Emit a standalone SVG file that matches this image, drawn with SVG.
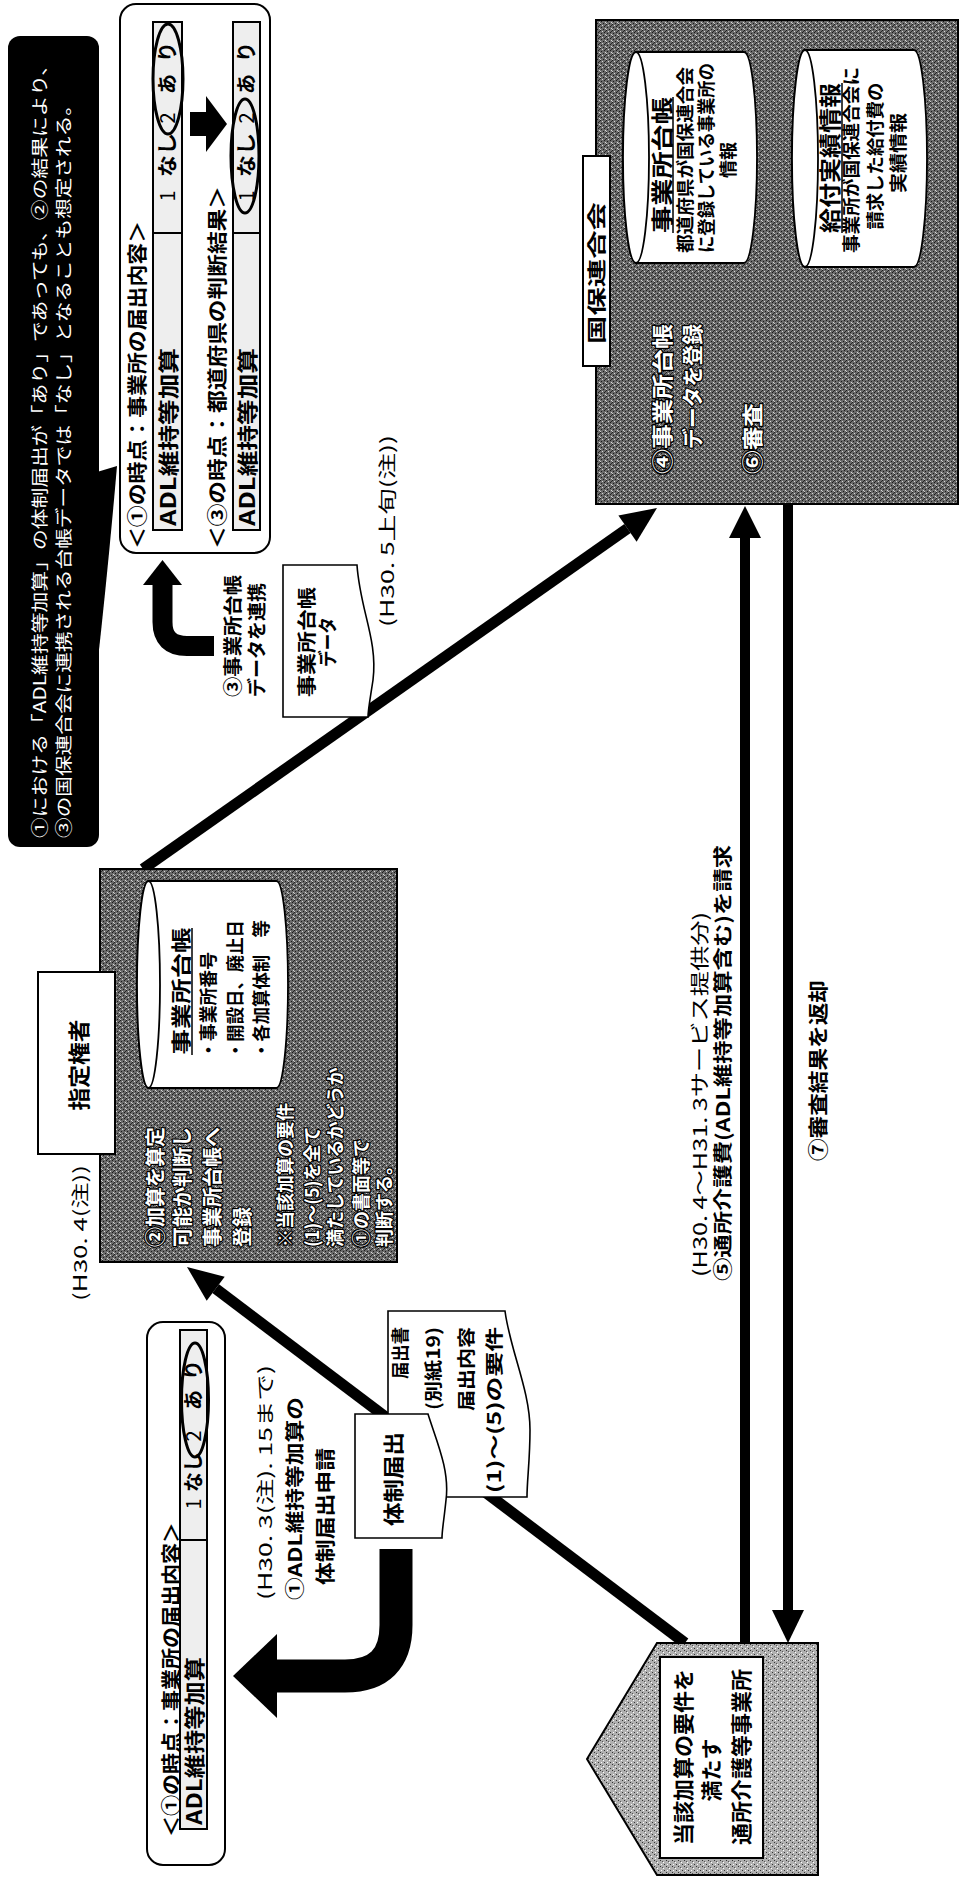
<svg xmlns="http://www.w3.org/2000/svg" width="962" height="1881" viewBox="0 0 962 1881">
<style>
text { font-family: "Noto Sans CJK JP", "Noto Sans", sans-serif; }
.b { font-weight: bold; fill: #000; }
.r { font-weight: normal; fill: #000; }
.cw { font-weight: normal; fill: #fff; }
.wo { font-weight: bold; fill: #fff; stroke: #000; stroke-width: 2.5px; paint-order: stroke; stroke-linejoin: round; }
.box { stroke: #000; stroke-width: 2; }
.doc { fill: #fff; stroke: #000; stroke-width: 1.6; }
.cell { fill: #eeeeee; stroke: #000; stroke-width: 2; }
.ell { fill: none; stroke: #000; stroke-width: 3; }
.cyl { fill: #fff; stroke: #000; stroke-width: 1.8; }
.ln { stroke: #000; fill: none; }
</style>
<defs>
<pattern id="dk" width="6" height="6" patternUnits="userSpaceOnUse">
<rect width="6" height="6" fill="#6a6a6a"/>
<rect x="0" y="0" width="1" height="1" fill="#1a1a1a"/>
<rect x="2" y="1" width="1" height="1" fill="#d8d8d8"/>
<rect x="4" y="2" width="1" height="1" fill="#1a1a1a"/>
<rect x="1" y="3" width="1" height="1" fill="#1a1a1a"/>
<rect x="5" y="4" width="1" height="1" fill="#d8d8d8"/>
<rect x="3" y="5" width="1" height="1" fill="#1a1a1a"/>
<rect x="0" y="5" width="1" height="1" fill="#c8c8c8"/>
<rect x="5" y="1" width="1" height="1" fill="#2a2a2a"/>
</pattern>
<pattern id="lt" width="6" height="6" patternUnits="userSpaceOnUse">
<rect width="6" height="6" fill="#b0b0b0"/>
<rect x="0" y="0" width="1" height="1" fill="#333"/>
<rect x="3" y="2" width="1" height="1" fill="#fff"/>
<rect x="4" y="4" width="1" height="1" fill="#333"/>
<rect x="1" y="4" width="1" height="1" fill="#fff"/>
<rect x="2" y="1" width="1" height="1" fill="#555"/>
</pattern>
</defs>
<rect width="962" height="1881" fill="#fff"/>

<g id="connectors">
<line class="ln" x1="685" y1="1643" x2="215.7" y2="1288.7" stroke-width="11"/>
<polygon points="187,1267 206.7,1300.7 224.7,1276.7" fill="#000"/>
<line class="ln" x1="143" y1="869" x2="627.5" y2="528.6" stroke-width="11"/>
<polygon points="657,508 636.6,541.7 618.4,515.5" fill="#000"/>
<line class="ln" x1="745" y1="1643" x2="745" y2="536" stroke-width="10"/>
<polygon points="745,506 729,538 761,538" fill="#000"/>
<line class="ln" x1="788" y1="504" x2="788" y2="1612" stroke-width="10"/>
<polygon points="788,1643 772,1610 804,1610" fill="#000"/>
<path class="ln" d="M162.5,584 V622 Q162.5,646 187,646 H214" stroke-width="20"/>
<polygon points="143,585 182,585 162.5,560" fill="#000"/>
<path class="ln" d="M396,1549 V1625 Q396,1676 345,1676 H276" stroke-width="33"/>
<polygon points="233,1676 277,1634 277,1718" fill="#000"/>
</g>

<g id="callout">
<rect x="8" y="36" width="91" height="811" rx="12" fill="#000"/>
<path d="M97,472 L117,466 Q108,570 97,668 Z" fill="#000"/>
<text class="cw" font-size="17" text-anchor="middle" transform="translate(46,446.5) rotate(-90)" textLength="783" lengthAdjust="spacingAndGlyphs">①における「ADL維持等加算」の体制届出が「あり」であっても、②の結果により、</text>
<text class="cw" font-size="17" text-anchor="middle" transform="translate(70,466.5) rotate(-90)" textLength="743" lengthAdjust="spacingAndGlyphs">③の国保連合会に連携される台帳データでは「なし」となることも想定される。</text>
</g>

<g id="table-top">
<rect x="120" y="4" width="150" height="549" rx="16" fill="#fff" class="box" stroke-width="2.5"/>
<text class="b" font-size="20" text-anchor="middle" transform="translate(144.6,385) rotate(-90)" textLength="328" lengthAdjust="spacingAndGlyphs">＜①の時点：事業所の届出内容＞</text>
<rect class="cell" x="153" y="22" width="29" height="508"/>
<line x1="153" y1="233" x2="182" y2="233" stroke="#000" stroke-width="2"/>
<text class="b" font-size="21" text-anchor="middle" transform="translate(175.5,437) rotate(-90)" textLength="178" lengthAdjust="spacingAndGlyphs">ADL維持等加算</text>
<text class="r" font-size="20" text-anchor="middle" transform="translate(175,196) rotate(-90)">1</text>
<text class="b" font-size="20" text-anchor="middle" transform="translate(175,155) rotate(-90)" textLength="44" lengthAdjust="spacingAndGlyphs">なし</text>
<text class="r" font-size="20" text-anchor="middle" transform="translate(175,118) rotate(-90)">2</text>
<text class="b" font-size="20" text-anchor="middle" transform="translate(175,68) rotate(-90)" textLength="52" lengthAdjust="spacing">あり</text>
<ellipse class="ell" cx="168" cy="79" rx="15" ry="55"/>
<polygon points="190,112 206,112 206,96 227,124 206,152 206,136 190,136" fill="#000"/>
<text class="b" font-size="20" text-anchor="middle" transform="translate(224.6,367.5) rotate(-90)" textLength="363" lengthAdjust="spacingAndGlyphs">＜③の時点：都道府県の判断結果＞</text>
<rect class="cell" x="233" y="22" width="27" height="508"/>
<line x1="233" y1="233" x2="260" y2="233" stroke="#000" stroke-width="2"/>
<text class="b" font-size="21" text-anchor="middle" transform="translate(254.5,437) rotate(-90)" textLength="178" lengthAdjust="spacingAndGlyphs">ADL維持等加算</text>
<text class="r" font-size="20" text-anchor="middle" transform="translate(254,196) rotate(-90)">1</text>
<text class="b" font-size="20" text-anchor="middle" transform="translate(254,155) rotate(-90)" textLength="44" lengthAdjust="spacingAndGlyphs">なし</text>
<text class="r" font-size="20" text-anchor="middle" transform="translate(254,118) rotate(-90)">2</text>
<text class="b" font-size="20" text-anchor="middle" transform="translate(254,68) rotate(-90)" textLength="52" lengthAdjust="spacing">あり</text>
<ellipse class="ell" cx="245" cy="156" rx="14" ry="57"/>
</g>

<g id="label-h30-5">
<text class="r" font-size="18" text-anchor="middle" transform="translate(394,531) rotate(-90)" textLength="192" lengthAdjust="spacingAndGlyphs">(H30. 5上旬(注))</text>
<text class="b" font-size="19" text-anchor="middle" transform="translate(240,636) rotate(-90)" textLength="122" lengthAdjust="spacingAndGlyphs">③事業所台帳</text>
<text class="b" font-size="19" text-anchor="middle" transform="translate(264,640) rotate(-90)" textLength="114" lengthAdjust="spacingAndGlyphs">データを連携</text>
</g>

<g id="doc-daicho">
<path class="doc" d="M283,565 H357 C360,610 378,640 373,680 C370,700 368,710 368,717 H283 Z"/>
<text class="b" font-size="19" text-anchor="middle" transform="translate(314,642) rotate(-90)" textLength="110" lengthAdjust="spacingAndGlyphs">事業所台帳</text>
<text class="b" font-size="19" text-anchor="middle" transform="translate(335,642) rotate(-90)" textLength="50" lengthAdjust="spacingAndGlyphs">データ</text>
</g>

<g id="shitei">
<rect x="100" y="869" width="297" height="393" fill="url(#dk)" class="box"/>
<path class="cyl" d="M148.5,881 H276.5 A11.5,103.5 0 0 1 276.5,1088 H148.5 A11.5,103.5 0 0 1 148.5,881 Z"/>
<ellipse class="cyl" cx="148.5" cy="984.5" rx="11.5" ry="103.5"/>
<text class="b" font-size="20" text-anchor="middle" transform="translate(188.6,991) rotate(-90)" textLength="127" lengthAdjust="spacingAndGlyphs">事業所台帳</text>
<line x1="192" y1="928" x2="192" y2="1055" stroke="#000" stroke-width="1.5"/>
<text class="b" font-size="18" transform="translate(215,1059) rotate(-90)" textLength="107" lengthAdjust="spacingAndGlyphs">・事業所番号</text>
<text class="b" font-size="18" transform="translate(242,1059) rotate(-90)" textLength="139" lengthAdjust="spacingAndGlyphs">・開設日、廃止日</text>
<text class="b" font-size="18" transform="translate(268,1059) rotate(-90)" textLength="139" lengthAdjust="spacingAndGlyphs">・各加算体制　等</text>
<text class="wo" font-size="20" transform="translate(162.6,1247) rotate(-90)">②加算を算定</text>
<text class="wo" font-size="20" transform="translate(189.6,1247) rotate(-90)">可能か判断し</text>
<text class="wo" font-size="20" transform="translate(219.6,1247) rotate(-90)">事業所台帳へ</text>
<text class="wo" font-size="20" transform="translate(249.6,1247) rotate(-90)">登録</text>
<text class="wo" font-size="18" transform="translate(291.8,1247) rotate(-90)">※当該加算の要件</text>
<text class="wo" font-size="18" transform="translate(318.8,1247) rotate(-90)">(1)～(5)を全て</text>
<text class="wo" font-size="18" transform="translate(341.8,1247) rotate(-90)">満たしているかどうか</text>
<text class="wo" font-size="18" transform="translate(367.8,1247) rotate(-90)">①の書面等で</text>
<text class="wo" font-size="18" transform="translate(390.8,1247) rotate(-90)">判断する。</text>
<rect x="38" y="972" width="77" height="182" fill="#fff" class="box"/>
<text class="b" font-size="22" text-anchor="middle" transform="translate(87,1065) rotate(-90)" textLength="91" lengthAdjust="spacingAndGlyphs">指定権者</text>
<text class="r" font-size="18" text-anchor="middle" transform="translate(87,1233) rotate(-90)" textLength="136" lengthAdjust="spacingAndGlyphs">(H30. 4(注))</text>
</g>

<g id="kokuho">
<rect x="596" y="20" width="362" height="484" fill="url(#dk)" class="box"/>
<path class="cyl" d="M636,52 H744 A13,105.5 0 0 1 744,263 H636 A13,105.5 0 0 1 636,52 Z"/>
<ellipse class="cyl" cx="636" cy="157.5" rx="13" ry="105.5"/>
<text class="b" font-size="22" text-anchor="middle" transform="translate(670,165) rotate(-90)" textLength="136" lengthAdjust="spacingAndGlyphs">事業所台帳</text>
<line x1="673" y1="97" x2="673" y2="233" stroke="#000" stroke-width="1.5"/>
<text class="b" font-size="18" text-anchor="middle" transform="translate(692,160) rotate(-90)" textLength="186" lengthAdjust="spacingAndGlyphs">都道府県が国保連合会</text>
<text class="b" font-size="18" text-anchor="middle" transform="translate(713,158) rotate(-90)" textLength="190" lengthAdjust="spacingAndGlyphs">に登録している事業所の</text>
<text class="b" font-size="18" text-anchor="middle" transform="translate(735,160) rotate(-90)">情報</text>
<path class="cyl" d="M805,50 H914 A13,108.5 0 0 1 914,267 H805 A13,108.5 0 0 1 805,50 Z"/>
<ellipse class="cyl" cx="805" cy="158.5" rx="13" ry="108.5"/>
<text class="b" font-size="22" text-anchor="middle" transform="translate(838,158) rotate(-90)" textLength="150" lengthAdjust="spacingAndGlyphs">給付実績情報</text>
<line x1="842" y1="83" x2="842" y2="233" stroke="#000" stroke-width="1.5"/>
<text class="b" font-size="18" text-anchor="middle" transform="translate(858,160) rotate(-90)" textLength="186" lengthAdjust="spacingAndGlyphs">事業所が国保連合会に</text>
<text class="b" font-size="18" text-anchor="middle" transform="translate(882,156) rotate(-90)" textLength="147" lengthAdjust="spacingAndGlyphs">請求した給付費の</text>
<text class="b" font-size="18" text-anchor="middle" transform="translate(905,153) rotate(-90)" textLength="80" lengthAdjust="spacingAndGlyphs">実績情報</text>
<text class="wo" font-size="21" transform="translate(670,474) rotate(-90)" textLength="150" lengthAdjust="spacingAndGlyphs">④事業所台帳</text>
<text class="wo" font-size="21" transform="translate(700,449) rotate(-90)" textLength="125" lengthAdjust="spacingAndGlyphs">データを登録</text>
<text class="wo" font-size="21" transform="translate(760,474) rotate(-90)" textLength="71" lengthAdjust="spacingAndGlyphs">⑥審査</text>
<rect x="583" y="156" width="27" height="210" fill="#fff" class="box"/>
<text class="b" font-size="19" text-anchor="middle" transform="translate(604,273) rotate(-90)" textLength="142" lengthAdjust="spacingAndGlyphs">国保連合会</text>
</g>

<g id="claim-labels">
<text class="r" font-size="19" text-anchor="middle" transform="translate(707,1094.5) rotate(-90)" textLength="365" lengthAdjust="spacingAndGlyphs">(H30. 4～H31. 3サービス提供分)</text>
<text class="b" font-size="19" text-anchor="middle" transform="translate(730,1063) rotate(-90)" textLength="436" lengthAdjust="spacingAndGlyphs">⑤通所介護費(ADL維持等加算含む)を請求</text>
<text class="b" font-size="20" text-anchor="middle" transform="translate(825.6,1070.5) rotate(-90)" textLength="181" lengthAdjust="spacingAndGlyphs">⑦審査結果を返却</text>
</g>

<g id="doc-todokede">
<path class="doc" d="M388,1311 H505 C510,1350 530,1390 530,1430 C530,1460 527,1480 527,1497 H388 Z"/>
<text class="b" font-size="18" text-anchor="end" transform="translate(407,1327) rotate(-90)" textLength="52" lengthAdjust="spacingAndGlyphs">届出書</text>
<text class="b" font-size="18" text-anchor="end" transform="translate(440,1327) rotate(-90)" textLength="83" lengthAdjust="spacingAndGlyphs">(別紙19)</text>
<text class="b" font-size="18" text-anchor="end" transform="translate(473,1327) rotate(-90)" textLength="84" lengthAdjust="spacingAndGlyphs">届出内容</text>
<text class="b" font-size="18" text-anchor="end" transform="translate(501,1327) rotate(-90)" textLength="166" lengthAdjust="spacingAndGlyphs">(1)～(5)の要件</text>
</g>

<g id="doc-taisei">
<path class="doc" d="M355,1414 H428 C436,1440 450,1470 446,1500 C444,1520 442,1530 442,1538 H355 Z"/>
<text class="b" font-size="21" text-anchor="middle" transform="translate(401,1479) rotate(-90)" textLength="94" lengthAdjust="spacingAndGlyphs">体制届出</text>
</g>

<g id="label-h30-3">
<text class="r" font-size="18" text-anchor="middle" transform="translate(272,1482.5) rotate(-90)" textLength="235" lengthAdjust="spacingAndGlyphs">(H30. 3(注). 15まで)</text>
<text class="b" font-size="19" text-anchor="middle" transform="translate(302,1498.5) rotate(-90)" textLength="203" lengthAdjust="spacingAndGlyphs">①ADL維持等加算の</text>
<text class="b" font-size="20" text-anchor="middle" transform="translate(332.6,1516.5) rotate(-90)" textLength="137" lengthAdjust="spacingAndGlyphs">体制届出申請</text>
</g>

<g id="table-bottom">
<rect x="147" y="1322" width="78" height="543" rx="16" fill="#fff" class="box" stroke-width="2.5"/>
<text class="b" font-size="20" text-anchor="middle" transform="translate(179,1679.5) rotate(-90)" textLength="315" lengthAdjust="spacingAndGlyphs">＜①の時点：事業所の届出内容＞</text>
<rect class="cell" x="180" y="1330" width="27" height="499"/>
<line x1="180" y1="1540" x2="207" y2="1540" stroke="#000" stroke-width="2"/>
<text class="b" font-size="21" text-anchor="middle" transform="translate(201.5,1741) rotate(-90)" textLength="168" lengthAdjust="spacingAndGlyphs">ADL維持等加算</text>
<text class="r" font-size="20" text-anchor="middle" transform="translate(201,1504) rotate(-90)">1</text>
<text class="b" font-size="20" text-anchor="middle" transform="translate(201,1472) rotate(-90)">なし</text>
<text class="r" font-size="20" text-anchor="middle" transform="translate(201,1436) rotate(-90)">2</text>
<text class="b" font-size="20" text-anchor="middle" transform="translate(201,1385) rotate(-90)" textLength="50" lengthAdjust="spacing">あり</text>
<ellipse class="ell" cx="195" cy="1400" rx="13.5" ry="57"/>
</g>

<g id="jigyosho">
<polygon points="587,1759 657,1643 818,1643 818,1875 657,1875" fill="url(#lt)" class="box"/>
<rect x="660" y="1657" width="103" height="201" fill="#fff" class="box"/>
<text class="b" font-size="21" text-anchor="middle" transform="translate(691,1757) rotate(-90)" textLength="176" lengthAdjust="spacingAndGlyphs">当該加算の要件を</text>
<text class="b" font-size="21" text-anchor="middle" transform="translate(719,1770) rotate(-90)">満たす</text>
<text class="b" font-size="21" text-anchor="middle" transform="translate(749,1757) rotate(-90)" textLength="176" lengthAdjust="spacingAndGlyphs">通所介護等事業所</text>
</g>
</svg>
